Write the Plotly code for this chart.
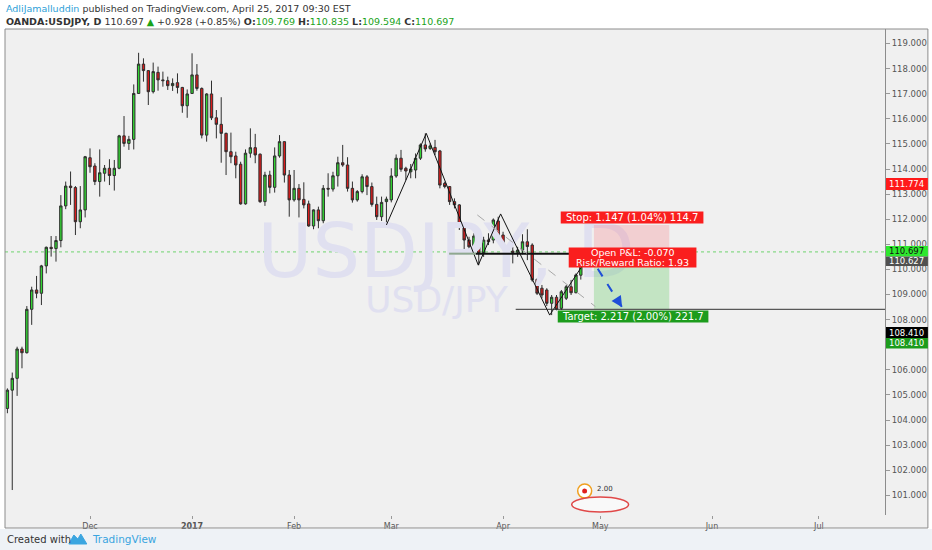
import pandas as pd
import plotly.graph_objects as go

# ---------------- data ----------------
HOLIDAYS = ["2016-12-26", "2017-01-02"]
CAL = [d.strftime("%Y-%m-%d") for d in pd.bdate_range("2016-11-08", "2017-07-31")
       if d.strftime("%Y-%m-%d") not in HOLIDAYS]
POS = {s: i + 1 for i, s in enumerate(CAL)}

OPEN = [104.46, 105.19, 105.66, 106.83, 106.68, 108.41, 109.18, 109.05, 110.14, 110.88,
        110.83, 111.15, 112.53, 113.32, 113.26, 111.90, 112.37, 114.45, 114.12, 113.50,
        113.83, 114.03, 113.74, 114.03, 115.32, 115.02, 115.18, 117.01, 118.18, 117.92,
        117.08, 117.85, 117.55, 117.52, 117.32, 117.44, 117.25, 116.52, 117.01, 117.75,
        117.21, 115.35, 116.99, 116.04, 115.78, 115.42, 114.69, 114.52, 114.19, 112.61,
        114.63, 114.85, 114.59, 112.70, 113.76, 113.27, 114.52, 115.09, 113.76, 112.77,
        113.23, 112.79, 112.61, 111.73, 112.37, 111.94, 113.23, 113.20, 113.73, 114.25,
        114.16, 113.23, 112.77, 113.10, 113.69, 113.30, 112.59, 112.10, 112.70, 112.77,
        113.72, 114.43, 114.03, 113.89, 113.96, 114.43, 114.96, 114.82, 114.86, 114.72,
        113.43, 113.30, 112.70, 112.57, 111.70, 111.17, 110.90, 111.33, 110.64, 111.17,
        111.17, 111.93, 111.37, 110.90, 110.73, 110.68, 110.77, 111.10, 110.97, 109.60,
        109.25, 109.18, 108.65, 108.89, 108.45, 108.85, 109.31, 109.07, 109.769]
HIGH = [105.26, 105.89, 106.92, 106.92, 108.54, 109.31, 109.74, 110.18, 110.91, 111.33,
        111.33, 112.96, 113.50, 113.90, 113.32, 113.32, 114.52, 114.82, 114.23, 114.78,
        114.16, 114.39, 114.36, 115.36, 116.11, 115.32, 117.37, 118.63, 118.41, 117.94,
        118.24, 118.08, 117.88, 117.68, 117.61, 117.81, 117.27, 117.17, 118.61, 118.18,
        117.25, 117.02, 117.52, 116.35, 116.86, 115.45, 115.45, 114.69, 114.29, 114.78,
        115.62, 115.40, 114.62, 113.89, 113.93, 114.86, 115.35, 115.10, 113.96, 113.96,
        113.40, 113.47, 112.74, 112.39, 112.50, 113.36, 113.83, 113.89, 114.49, 114.96,
        114.47, 113.50, 113.16, 113.79, 113.76, 113.46, 112.90, 112.90, 112.90, 114.03,
        114.58, 114.76, 114.09, 114.20, 114.62, 115.02, 115.42, 115.02, 115.16, 114.76,
        113.49, 113.32, 112.83, 112.60, 111.77, 111.30, 111.44, 111.44, 111.30, 111.44,
        112.03, 112.10, 111.50, 110.97, 110.90, 110.90, 111.40, 111.60, 111.04, 109.64,
        109.38, 109.25, 108.98, 108.98, 109.18, 109.38, 109.58, 109.84, 110.835]
LOW = [104.27, 101.21, 104.96, 106.06, 106.65, 107.79, 108.85, 108.58, 109.84, 110.51,
       110.31, 110.88, 112.40, 112.57, 111.37, 111.64, 112.07, 113.85, 113.36, 112.90,
       113.50, 113.36, 113.14, 113.99, 114.89, 114.76, 114.78, 117.00, 117.48, 116.55,
       117.01, 117.12, 117.28, 117.15, 117.11, 117.01, 116.24, 116.04, 117.00, 117.12,
       115.22, 115.09, 115.95, 115.22, 114.25, 113.76, 114.23, 113.63, 112.58, 112.58,
       114.45, 114.23, 112.65, 112.53, 113.03, 113.06, 114.45, 113.46, 112.10, 112.70,
       112.07, 112.43, 111.70, 111.60, 111.64, 111.84, 112.90, 113.10, 113.30, 114.09,
       113.10, 112.66, 112.70, 113.03, 112.96, 112.50, 111.97, 111.93, 111.77, 112.67,
       113.65, 113.89, 113.56, 113.63, 113.63, 114.36, 114.69, 114.76, 114.56, 113.23,
       113.23, 112.57, 112.43, 111.57, 110.77, 110.75, 110.70, 110.17, 110.50, 110.97,
       111.04, 111.17, 110.77, 110.37, 110.24, 110.50, 110.60, 110.37, 109.51, 108.98,
       108.85, 108.54, 108.18, 108.37, 108.38, 108.78, 108.98, 109.05, 109.594]
CLOSE = [105.19, 105.66, 106.83, 106.68, 108.41, 109.18, 109.05, 110.14, 110.88, 110.83,
         111.15, 112.53, 113.32, 113.26, 111.90, 112.37, 114.49, 114.09, 113.50, 113.85,
         114.03, 113.74, 114.03, 115.32, 115.02, 115.18, 117.01, 118.18, 117.92, 117.08,
         117.88, 117.55, 117.52, 117.32, 117.41, 117.25, 116.52, 116.99, 117.75, 117.21,
         115.35, 116.99, 116.04, 115.78, 115.42, 114.69, 114.49, 114.16, 112.61, 114.63,
         114.85, 114.56, 112.70, 113.76, 113.27, 114.52, 115.09, 113.76, 112.77, 113.23,
         112.77, 112.57, 111.73, 112.37, 111.94, 113.23, 113.20, 113.73, 114.25, 114.16,
         113.23, 112.77, 113.10, 113.69, 113.30, 112.59, 112.10, 112.67, 112.80, 113.72,
         114.43, 113.99, 113.92, 114.00, 114.43, 114.96, 114.80, 114.92, 114.69, 113.36,
         113.30, 112.70, 112.57, 111.70, 111.17, 110.90, 111.33, 110.64, 111.17, 111.10,
         111.97, 111.33, 110.88, 110.70, 110.67, 110.77, 111.10, 110.91, 109.58, 109.05,
         108.98, 108.65, 108.89, 108.41, 109.11, 109.31, 109.07, 109.78, 110.697]
DATES = CAL[:len(OPEN)]

Y_TICKS = list(range(101, 120))
Y_TICKS_HIDDEN = [107]          # covered by the price labels in the reference
LAST_PRICE = 110.697
ENTRY, STOP, TARGET = 110.627, 111.774, 108.410

# drawings: (date, bar offset, price)
ZIGZAG = [("2017-02-28", 0.0, 111.77), ("2017-03-10", 0.2, 115.42), ("2017-03-27", -0.1, 110.17),
          ("2017-03-31", 0.5, 112.21), ("2017-04-14", 0.6, 108.18), ("2017-04-25", 0.5, 110.20)]
DASHED = [("2017-03-24", 0.7, 112.17), ("2017-04-28", 0.0, 108.52)]
ARROW = [("2017-04-26", 0.5, 110.63), ("2017-05-05", 0.5, 108.49)]
ZONE = [("2017-04-27", 0.7), ("2017-05-19", 0.2)]
ENTRY_LINE_GRAY = [("2017-03-16", 0.9), ("2017-03-24", 0.4)]
TARGET_LINE_START = ("2017-04-05", 0.6)


def bx(d, off=0.0):
    return POS[d] + off


x = [POS[d] for d in DATES]

# ---------------- geometry helpers (layout only) ----------------
W, H = 932, 550
ML, MR, MT, MB = 5, 45, 29, 35
PW, PH = W - ML - MR, H - MT - MB
X0, X1 = 0.507, 181.6
Y0, Y1 = 100.215, 119.578


def PX(px):
    return (px - ML) / PW


def PY(py):
    return (H - MB - py) / PH


FONT = "DejaVu Sans"
UP, DN, WICK = "#33d433", "#d91c1c", "#2e2e2e"

fig = go.Figure()

# watermark (under candles)
fig.add_trace(go.Scatter(x=[91.3], y=[110.45], mode="text", text=["USDJPY, D"],
                         textfont=dict(family=FONT, size=75, color="#e0e0f0"),
                         hoverinfo="skip", showlegend=False))
fig.add_trace(go.Scatter(x=[89.3], y=[108.66], mode="text", text=["USD/JPY"],
                         textfont=dict(family=FONT, size=36, color="#e0e0f0"),
                         hoverinfo="skip", showlegend=False))

fig.add_trace(go.Candlestick(
    x=x, open=OPEN, high=HIGH, low=LOW, close=CLOSE,
    increasing=dict(fillcolor=UP, line=dict(color=WICK, width=1)),
    decreasing=dict(fillcolor=DN, line=dict(color=WICK, width=1)),
    whiskerwidth=0, hoverinfo="skip", showlegend=False))

# zigzag
fig.add_trace(go.Scatter(x=[bx(d, o) for d, o, p in ZIGZAG], y=[p for d, o, p in ZIGZAG],
                         mode="lines", line=dict(color="#111111", width=1),
                         hoverinfo="skip", showlegend=False))

shapes = []
# panels
shapes.append(dict(type="rect", xref="paper", yref="paper", x0=PX(887), x1=PX(930), y0=PY(528), y1=PY(29),
                   fillcolor="#f0f0f0", line=dict(width=0), layer="below"))
shapes.append(dict(type="rect", xref="paper", yref="paper", x0=PX(5), x1=PX(930), y0=PY(528), y1=PY(515),
                   fillcolor="#f0f0f0", line=dict(width=0), layer="below"))
shapes.append(dict(type="rect", xref="paper", yref="paper", x0=PX(-2), x1=PX(934), y0=PY(552), y1=PY(529),
                   fillcolor="#eef2f6", line=dict(width=0), layer="below"))
shapes.append(dict(type="rect", xref="paper", yref="paper", x0=PX(5), x1=PX(930), y0=PY(528), y1=PY(29),
                   fillcolor="rgba(0,0,0,0)", line=dict(color="#8c8c8c", width=1), layer="above"))
# last price dotted line
shapes.append(dict(type="line", xref="paper", yref="y", x0=0, x1=1, y0=LAST_PRICE, y1=LAST_PRICE,
                   line=dict(color="#6fd46f", width=1, dash="dot"), layer="below"))
# position zones
zx0, zx1 = bx(*ZONE[0]), bx(*ZONE[1])
shapes.append(dict(type="rect", x0=zx0, x1=zx1, y0=ENTRY, y1=STOP, fillcolor="rgba(250,90,100,0.22)",
                   line=dict(width=0), layer="above"))
shapes.append(dict(type="rect", x0=zx0, x1=zx1, y0=TARGET, y1=ENTRY, fillcolor="rgba(60,190,60,0.25)",
                   line=dict(width=0), layer="above"))
# horizontal lines
shapes.append(dict(type="line", x0=bx(*ENTRY_LINE_GRAY[0]), x1=bx(*ENTRY_LINE_GRAY[1]), y0=ENTRY, y1=ENTRY,
                   line=dict(color="#8fa88f", width=2), layer="above"))
shapes.append(dict(type="line", x0=bx(*ENTRY_LINE_GRAY[1]), x1=zx0, y0=ENTRY, y1=ENTRY,
                   line=dict(color="#111111", width=2), layer="above"))
shapes.append(dict(type="line", x0=bx(*TARGET_LINE_START), x1=X1, y0=TARGET, y1=TARGET,
                   line=dict(color="#333333", width=1), layer="above"))
# gray dashed
shapes.append(dict(type="line", x0=bx(DASHED[0][0], DASHED[0][1]), y0=DASHED[0][2],
                   x1=bx(DASHED[1][0], DASHED[1][1]), y1=DASHED[1][2],
                   line=dict(color="#a8a8a8", width=1, dash="dash"), layer="above"))
# blue dashed arrow
ax0, ay0 = bx(ARROW[0][0], ARROW[0][1]), ARROW[0][2]
ax1, ay1 = bx(ARROW[1][0], ARROW[1][1]), ARROW[1][2]
shapes.append(dict(type="line", x0=ax0, y0=ay0, x1=ax1, y1=ay1,
                   line=dict(color="#1f4fd8", width=2, dash="dash"), layer="above"))

annotations = []
annotations.append(dict(x=ax1, y=ay1, ax=ax1 - (ax1 - ax0) * 0.12, ay=ay1 - (ay1 - ay0) * 0.12,
                        xref="x", yref="y", axref="x", ayref="y", text="", showarrow=True,
                        arrowhead=2, arrowsize=1.1, arrowwidth=2, arrowcolor="#1f4fd8"))


def box_label(x0, x1, y0, y1, color, lines, tcolor="white", size=9, bold=False, centers=None):
    shapes.append(dict(type="rect", xref="paper", yref="paper", x0=PX(x0), x1=PX(x1), y0=PY(y1), y1=PY(y0),
                       fillcolor=color, line=dict(width=0), layer="above"))
    n = len(lines)
    h = (y1 - y0) / n
    for i, t in enumerate(lines):
        cy = centers[i] if centers else y0 + h * (i + 0.5)
        annotations.append(dict(x=PX((x0 + x1) / 2), y=PY(cy), xref="paper", yref="paper",
                                text=("<b>%s</b>" % t) if bold else t, showarrow=False,
                                xanchor="center", yanchor="middle", borderpad=0,
                                font=dict(family=FONT, size=size, color=tcolor)))


box_label(562, 705, 211.5, 223.5, "#fa1e1e", ["Stop: 1.147 (1.04%) 114.7"], size=10)
box_label(570, 698, 247.5, 267.5, "#fa1e1e", ["Open P&L: -0.070", "Risk/Reward Ratio: 1.93"], size=9.5,
          centers=[252.8, 262.2])
box_label(559, 710, 310.5, 322.5, "#1c9c1c", ["Target: 2.217 (2.00%) 221.7"], size=10)

# axis price labels
box_label(888, 930, 178, 190, "#ff1a1a", ["111.774"], size=8.5)
box_label(888, 930, 246, 256.5, "#2ee82e", ["110.697"], tcolor="#111111", size=8.5)
box_label(888, 930, 256.5, 266, "#505050", ["110.627"], size=8.5)
box_label(888, 930, 327, 338, "#000000", ["108.410"], size=8.5)
box_label(888, 930, 338, 348.5, "#1c9c1c", ["108.410"], size=8.5)

# header
G = "#1aa31a"
annotations.append(dict(x=PX(4), y=PY(9), xref="paper", yref="paper", xanchor="left", yanchor="middle",
                        showarrow=False, font=dict(family=FONT, size=9.5, color="#333333"),
                        text="<span style='color:#2e9fd8'>AdliJamalluddin</span> published on TradingView.com, April 25, 2017 09:30 EST"))
annotations.append(dict(x=PX(4), y=PY(21), xref="paper", yref="paper", xanchor="left", yanchor="middle",
                        showarrow=False, font=dict(family=FONT, size=9.5, color="#333333"),
                        text=("<b>OANDA:USDJPY, D</b> 110.697 <span style='color:%s'>▲</span> +0.928 (+0.85%%) "
                              "<b>O:</b><span style='color:%s'>109.769</span> <b>H:</b><span style='color:%s'>110.835</span> "
                              "<b>L:</b><span style='color:%s'>109.594</span> <b>C:</b><span style='color:%s'>110.697</span>")
                        % (G, G, G, G, G)))
# footer
annotations.append(dict(x=PX(5), y=PY(539), xref="paper", yref="paper", xanchor="left", yanchor="middle",
                        showarrow=False, font=dict(family=FONT, size=10, color="#333333"), text="Created with"))
annotations.append(dict(x=PX(90), y=PY(539), xref="paper", yref="paper", xanchor="left", yanchor="middle",
                        showarrow=False, font=dict(family=FONT, size=10.5, color="#3aa5e0"), text="TradingView"))


def lp(xp, yp):
    return "%f %f" % (PX(xp), PY(yp))


# logo approximation
shapes.append(dict(type="path", xref="paper", yref="paper",
                   path="M %s L %s L %s L %s L %s Z" % (lp(69, 544), lp(74, 535), lp(78, 539), lp(81, 534),
                                                        lp(87, 544)),
                   fillcolor="#3aa5e0", line=dict(color="#3aa5e0", width=1), layer="above"))

# event icons approximation
shapes.append(dict(type="circle", xref="paper", yref="paper", x0=PX(579), x1=PX(593), y0=PY(498), y1=PY(484),
                   fillcolor="white", line=dict(color="#f0a020", width=1.5), layer="above"))
shapes.append(dict(type="circle", xref="paper", yref="paper", x0=PX(583.5), x1=PX(588.5), y0=PY(493.5),
                   y1=PY(488.5), fillcolor="#e02020", line=dict(width=0), layer="above"))
shapes.append(dict(type="circle", xref="paper", yref="paper", x0=PX(573), x1=PX(630), y0=PY(512), y1=PY(497),
                   fillcolor="rgba(255,255,255,0.6)", line=dict(color="#e04848", width=1.5), layer="above"))
annotations.append(dict(x=PX(596), y=PY(489), xref="paper", yref="paper", xanchor="left", yanchor="middle",
                        showarrow=False, font=dict(family=FONT, size=7, color="#333333"), text="2.00"))

# x ticks: first bar of each month after the first
tickvals, ticktext = [], []
seen = set()
for d in CAL:
    ym = d[:7]
    if ym not in seen:
        seen.add(ym)
        if len(seen) == 1:
            continue
        ts = pd.Timestamp(d)
        tickvals.append(POS[d])
        ticktext.append("<b>%d</b>" % ts.year if ts.month == 1 else ts.strftime("%b"))

fig.update_layout(
    width=W, height=H, margin=dict(l=ML, r=MR, t=MT, b=MB, pad=0),
    paper_bgcolor="#ffffff", plot_bgcolor="#f0f0f0",
    shapes=shapes, annotations=annotations, showlegend=False,
    font=dict(family=FONT, color="#555555"),
    xaxis=dict(range=[X0, X1], tickvals=tickvals, ticktext=ticktext, showgrid=False, zeroline=False,
               rangeslider=dict(visible=False), ticks="outside", ticklen=3, tickcolor="#999999",
               tickfont=dict(family=FONT, size=8, color="#555555"), showline=False, fixedrange=True),
    yaxis=dict(range=[Y0, Y1], side="right", tickvals=Y_TICKS,
               ticktext=["" if v in Y_TICKS_HIDDEN else "%.3f" % v for v in Y_TICKS],
               showgrid=False, zeroline=False, ticks="outside", ticklen=4, tickcolor="#999999",
               tickfont=dict(family=FONT, size=8.5, color="#555555"), showline=True, linecolor="#8c8c8c",
               linewidth=1, fixedrange=True),
)

fig.write_html("out.html", config={"displayModeBar": False},
               post_script="document.body.style.margin='0px';document.body.style.padding='0px';")
